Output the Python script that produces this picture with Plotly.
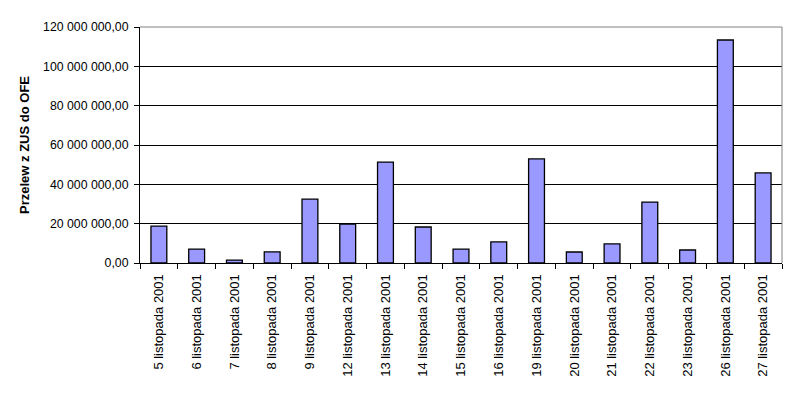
import plotly.graph_objects as go

categories = ["5 listopada 2001", "6 listopada 2001", "7 listopada 2001", "8 listopada 2001",
              "9 listopada 2001", "12 listopada 2001", "13 listopada 2001", "14 listopada 2001",
              "15 listopada 2001", "16 listopada 2001", "19 listopada 2001", "20 listopada 2001",
              "21 listopada 2001", "22 listopada 2001", "23 listopada 2001", "26 listopada 2001",
              "27 listopada 2001"]
values = [18.8e6, 7.1e6, 1.5e6, 5.7e6, 32.5e6, 19.8e6, 51.3e6, 18.3e6, 7.1e6, 10.7e6,
          52.9e6, 5.6e6, 9.7e6, 31.0e6, 6.6e6, 113.4e6, 45.8e6]
tick_vals = [0, 20e6, 40e6, 60e6, 80e6, 100e6, 120e6]
tick_text = ["0,00", "20 000 000,00", "40 000 000,00", "60 000 000,00",
             "80 000 000,00", "100 000 000,00", "120 000 000,00"]
y_title = "Przelew z ZUS do OFE"

fig = go.Figure(go.Bar(
    x=categories, y=values,
    marker=dict(color="#9999FF", line=dict(color="#000000", width=1.3)),
    width=0.42,
))

fig.update_layout(
    width=801, height=409,
    margin=dict(l=132, r=27, t=19, b=154),
    paper_bgcolor="white", plot_bgcolor="white",
    font=dict(family="Liberation Sans, Arial, sans-serif", size=12, color="black"),
    showlegend=False,
    bargap=0.6,
)
fig.update_xaxes(
    type="category", tickangle=-90, tickson="boundaries",
    ticks="outside", ticklen=5, tickcolor="black",
    showline=True, linecolor="black", linewidth=1,
    showgrid=False, tickfont=dict(size=13), ticklabelstandoff=5,
)
fig.update_yaxes(
    range=[0, 120e6], tickvals=tick_vals, ticktext=tick_text,
    ticks="outside", ticklen=5, tickcolor="black",
    showline=True, linecolor="black", linewidth=1,
    showgrid=True, gridcolor="black", gridwidth=1,
    zeroline=False, ticklabelstandoff=3,
    title=dict(text="<b>" + y_title + "</b>", font=dict(size=13), standoff=10),
    tickfont=dict(size=12.3),
)
fig.add_shape(type="line", xref="paper", yref="paper", x0=0, x1=1, y0=1, y1=1,
              line=dict(color="#808080", width=1))
fig.add_shape(type="line", xref="paper", yref="paper", x0=1, x1=1, y0=0, y1=1,
              line=dict(color="#808080", width=1))

fig.write_html("out.html")
